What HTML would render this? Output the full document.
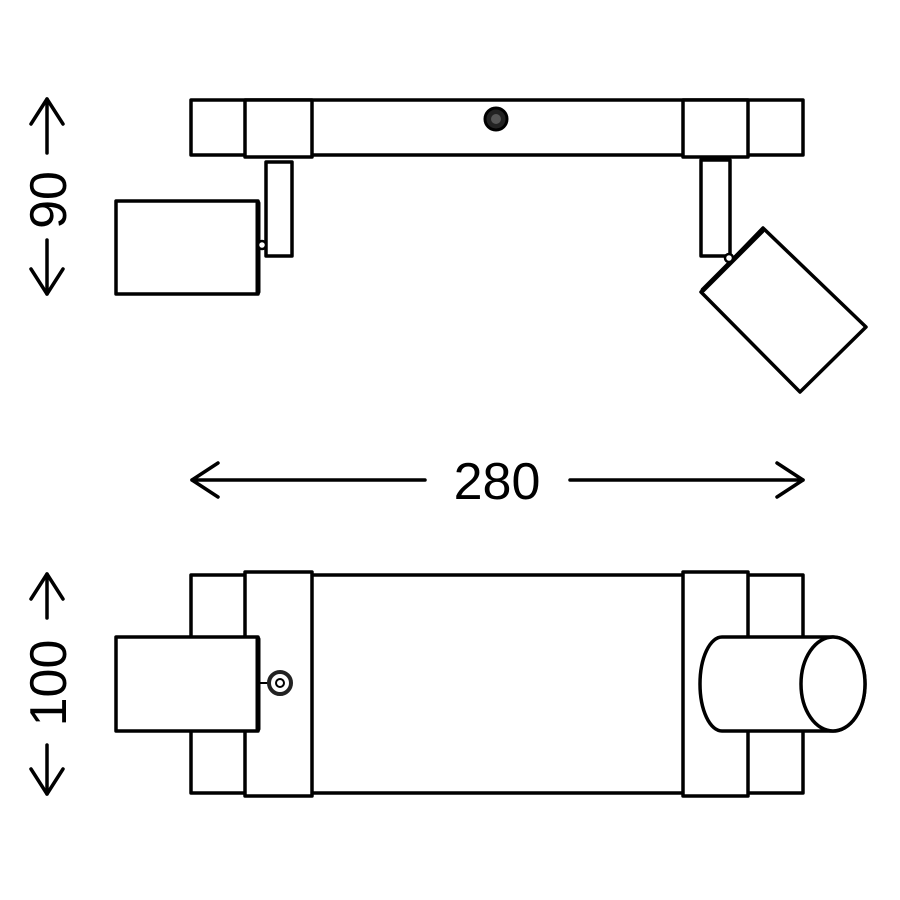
<!DOCTYPE html>
<html><head><style>body{margin:0;background:#fff}svg{display:block}</style></head><body>
<svg width="900" height="900" viewBox="0 0 900 900" xmlns="http://www.w3.org/2000/svg" fill="none" stroke="#000" stroke-width="3.5" stroke-linejoin="round" stroke-linecap="round">
<!-- TOP VIEW -->
<rect x="191" y="100" width="612" height="55" fill="#fff"/>
<rect x="245" y="100" width="67" height="57" fill="#fff"/>
<rect x="683" y="100" width="65" height="57" fill="#fff"/>
<circle cx="496" cy="119" r="11" fill="#222" stroke-width="3"/>
<circle cx="496" cy="119" r="5" fill="#555" stroke="none"/>
<!-- left stem & cylinder -->
<rect x="266" y="162" width="26" height="94" fill="#fff"/>
<rect x="116" y="201" width="142" height="93" fill="#fff"/>
<line x1="258" y1="203" x2="258" y2="292" stroke-width="5"/>
<circle cx="262" cy="245" r="4" fill="#fff" stroke-width="2.5"/>
<!-- right stem & cylinder -->
<rect x="701" y="160" width="29" height="96" fill="#fff"/>
<polygon points="763,228 866,327 800,392 701,292" fill="#fff"/>
<line x1="703" y1="290" x2="762" y2="231" stroke-width="5"/>
<circle cx="729" cy="258" r="4" fill="#fff" stroke-width="2.5"/>
<!-- 280 dimension -->
<line x1="192" y1="480" x2="425" y2="480"/>
<polyline points="218,463 192,480 218,497"/>
<line x1="570" y1="480" x2="803" y2="480"/>
<polyline points="777,463 803,480 777,497"/>
<text x="497" y="499" font-family="Liberation Sans, sans-serif" font-size="52" fill="#000" stroke="none" text-anchor="middle">280</text>
<!-- 90 dimension -->
<line x1="47" y1="99" x2="47" y2="153"/>
<polyline points="31,124 47,99 63,124"/>
<line x1="47" y1="240" x2="47" y2="294"/>
<polyline points="31,269 47,294 63,269"/>
<text transform="translate(66,200) rotate(-90)" font-family="Liberation Sans, sans-serif" font-size="52" fill="#000" stroke="none" text-anchor="middle">90</text>
<!-- 100 dimension -->
<line x1="47" y1="574" x2="47" y2="618"/>
<polyline points="31,599 47,574 63,599"/>
<line x1="47" y1="745" x2="47" y2="794"/>
<polyline points="31,769 47,794 63,769"/>
<text transform="translate(66,683) rotate(-90)" font-family="Liberation Sans, sans-serif" font-size="52" fill="#000" stroke="none" text-anchor="middle">100</text>
<!-- BOTTOM VIEW -->
<rect x="191" y="575" width="612" height="218" fill="#fff"/>
<rect x="245" y="572" width="67" height="224" fill="#fff"/>
<rect x="683" y="572" width="65" height="224" fill="#fff"/>
<rect x="116" y="637" width="142" height="94" fill="#fff"/>
<line x1="258" y1="639" x2="258" y2="729" stroke-width="5"/>
<line x1="258" y1="683" x2="270" y2="683" stroke-width="2"/>
<circle cx="280" cy="683" r="11" fill="#fff" stroke="#222" stroke-width="4"/>
<circle cx="280" cy="683" r="4" fill="#fff" stroke-width="2"/>
<path d="M722,637 L833,637 A32,47 0 0 1 833,731 L722,731 A22,47 0 0 1 722,637 Z" fill="#fff"/>
<ellipse cx="833" cy="684" rx="32" ry="47" fill="#fff"/>
</svg>
</body></html>
